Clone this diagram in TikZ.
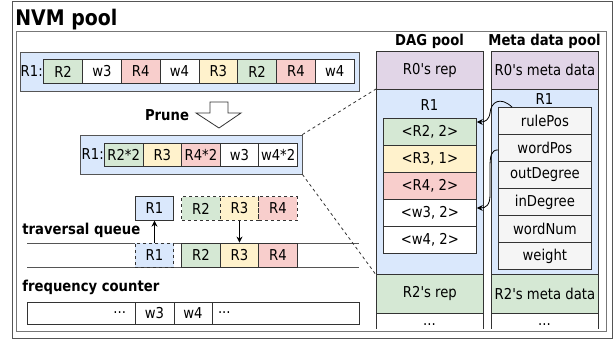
\documentclass[tikz,border=0pt]{standalone}
\usepackage{fontspec}
\setmainfont{DejaVu Sans}[FakeStretch=0.88, Ligatures=TeXOff]
\usepackage{tikz}
\usetikzlibrary{arrows.meta,calc,positioning}

\definecolor{cblue}{HTML}{DAE8FC}
\definecolor{cgreen}{HTML}{D5E8D4}
\definecolor{cred}{HTML}{F8CECC}
\definecolor{cyellow}{HTML}{FFF2CC}
\definecolor{cpurple}{HTML}{E1D5E7}
\definecolor{cgray}{HTML}{F5F5F5}
\definecolor{edge}{HTML}{333333}
\definecolor{frameline}{HTML}{555555}

\newcommand{\cellfont}{\fontsize{15}{18}\selectfont}
\newcommand{\headfont}{\fontsize{15}{18}\selectfont\bfseries}

\begin{document}
\begin{tikzpicture}[x=1pt, y=-1pt, line width=0.8pt,
  every node/.style={inner sep=0pt, font=\cellfont},
  cell/.style={draw=edge, minimum width=38.8pt, minimum height=23.3pt},
  qcell/.style={draw=edge, minimum width=38.5pt, minimum height=23.5pt},
  holder/.style={draw=frameline, fill=cblue},
  band/.style={draw=edge, minimum width=107pt, anchor=north west},
  entry/.style={draw=edge, minimum width=93pt, minimum height=27pt, anchor=north west},
  headtxt/.style={font=\headfont, anchor=base},
  dashline/.style={dash pattern=on 3pt off 3pt},
  ptr/.style={-{Stealth[length=6pt,width=6pt]}, draw=black}]

\useasboundingbox (0,0) rectangle (616,341);

% outer and inner pools
\draw[frameline] (12.7,1) rectangle (612,338.5);
\node[font=\fontsize{21.5}{24}\selectfont\bfseries, anchor=base west] (nvm) at (15,25) {NVM pool};
\draw[frameline!80] (16.7,31) rectangle (606,331.5);

% rule R1 before pruning
\node[holder, minimum width=339pt, minimum height=39pt] (raw) at (189.5,71.5) {};
\node (rawlbl) at (31.7,71.5) {R1:};
\foreach \t/\c [count=\i] in {R2/cgreen, w3/white, R4/cred, w4/white, R3/cyellow, R2/cgreen, R4/cred, w4/white}
  \node[cell, fill=\c, anchor=west] (r\i) at ({43.3+(\i-1)*38.8}, 71.5) {\t};

% prune step
\node[headtxt] (prune) at (167,120) {Prune};
\draw[edge, fill=white] (210,102) -- (228,102) -- (228,113) -- (241,113) -- (219,128)
  -- (196,113) -- (210,113) -- cycle;

% rule R1 after pruning
\node[holder, minimum width=222pt, minimum height=39pt] (prn) at (191,154.5) {};
\node (prnlbl) at (92.7,154.5) {R1:};
\foreach \t/\c [count=\i] in {R2*2/cgreen, R3/cyellow, R4*2/cred, w3/white, w4*2/white}
  \node[cell, minimum width=38.6pt, fill=\c, anchor=west] (p\i) at ({104+(\i-1)*38.6}, 155) {\t};

% traversal queue
\node[headtxt, anchor=base west] (tqlbl) at (22,234) {traversal queue};
\draw[frameline] (27,243) -- (359,243);
\draw[frameline] (27,267) -- (359,267);
\node[qcell, fill=cblue] (u1) at (154.5,208.5) {R1};
\node[qcell, dashline, fill=cgreen] (u2) at (201,208.5) {R2};
\node[qcell, dashline, fill=cyellow] (u3) at (239.5,208.5) {R3};
\node[qcell, dashline, fill=cred] (u4) at (278,208.5) {R4};
\node[qcell, dashline, fill=cblue, minimum height=24pt] (q1) at (154.5,255) {R1};
\node[qcell, fill=cgreen, minimum height=24pt] (q2) at (201,255) {R2};
\node[qcell, fill=cyellow, minimum height=24pt] (q3) at (239.5,255) {R3};
\node[qcell, fill=cred, minimum height=24pt] (q4) at (278,255) {R4};
\draw[ptr] (q1.north) -- (u1.south);
\draw[ptr] (u3.south) -- (q3.north);

% frequency counter
\node[headtxt, anchor=base west] (fclbl) at (22,291.7) {frequency counter};
\node[draw=edge, minimum width=108pt, minimum height=22pt, text width=90pt, align=right] (f1) at (81,313) {...};
\node[draw=edge, minimum width=39pt, minimum height=22pt] (f2) at (154.5,313) {w3};
\node[draw=edge, minimum width=38pt, minimum height=22pt] (f3) at (193,313) {w4};
\node[draw=edge, minimum width=147pt, minimum height=22pt, text width=135pt, align=left] (f4) at (285.5,313) {...};

% DAG pool
\node[headtxt] (daglbl) at (429.5,45.7) {DAG pool};
\node[band, fill=cpurple, minimum height=38pt] (d0) at (376,51) {R0's rep};
\node[band, fill=cblue, minimum height=185pt] (dR1) at (376,89) {};
\node[anchor=base] (dR1lbl) at (429.5,110.7) {R1};
\foreach \t/\c [count=\i] in {{<R2, 2>}/cgreen, {<R3, 1>}/cyellow, {<R4, 2>}/cred, {<w3, 2>}/white, {<w4, 2>}/white}
  \node[entry, fill=\c] (d\i) at (383, {118+(\i-1)*27}) {\t};
\node[band, fill=cgreen, minimum height=39pt] (dR2) at (376,274) {R2's rep};
\draw[edge] (dR2.south west) -- ++(0,15);
\draw[edge] (dR2.south east) -- ++(0,15);
\node[anchor=base] (dmore) at (429.5,325.5) {...};

% meta data pool
\node[headtxt] (metalbl) at (544.5,45.7) {Meta data pool};
\node[band, fill=cpurple, minimum height=38pt] (m0) at (491,51) {R0's meta data};
\node[band, fill=cblue, minimum height=185pt] (mR1) at (491,89) {};
\node[anchor=base] (mR1lbl) at (544.5,104.3) {R1};
\foreach \t [count=\i] in {rulePos, wordPos, outDegree, inDegree, wordNum, weight}
  \node[entry, fill=cgray] (m\i) at (498, {107+(\i-1)*27}) {\t};
\node[band, fill=cgreen, minimum height=39pt] (mR2) at (491,274) {R2's meta data};
\draw[edge] (mR2.south west) -- ++(0,15);
\draw[edge] (mR2.south east) -- ++(0,15);
\node[anchor=base] (mmore) at (544.5,325.5) {...};

% zoom lines from the pruned rule into the DAG pool
\draw[edge, dashline] (prn.north east) -- (dR1.north west);
\draw[edge, dashline] (prn.south east) -- (dR1.south west);

% meta data pointers
\draw[ptr] ($(m1.north west)+(14,0)$) .. controls (500,96) and (491,102) .. (490,113)
  .. controls (489,120) and (485,122) .. ($(d1.north east)+(0,4)$);
\draw[ptr] ($(m2.west)+(0,2)$) .. controls (491,150) and (490,156) .. (490,168)
  -- (490,195) .. controls (490,205) and (486,208) .. ($(d4.north east)+(0,9)$);

\end{tikzpicture}
\end{document}
